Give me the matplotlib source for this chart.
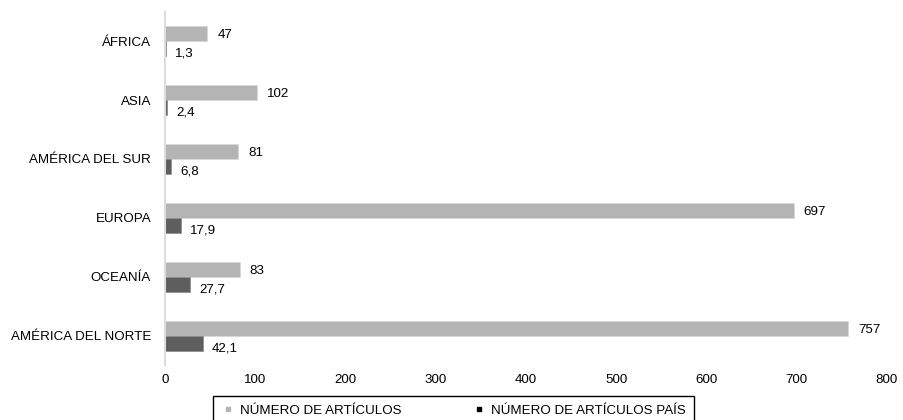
import matplotlib

matplotlib.use("Agg")
import matplotlib.pyplot as plt
from matplotlib.lines import Line2D
import numpy as np

plt.rcParams["font.family"] = ["Liberation Sans", "DejaVu Sans"]

# Data (top to bottom)
regions = ["ÁFRICA", "ASIA", "AMÉRICA DEL SUR", "EUROPA", "OCEANÍA", "AMÉRICA DEL NORTE"]
articulos = [47, 102, 81, 697, 83, 757]
articulos_pais = [1.3, 2.4, 6.8, 17.9, 27.7, 42.1]
xticks = [0, 100, 200, 300, 400, 500, 600, 700, 800]

LIGHT = "#b4b4b4"
DARK = "#5e5e5e"
FS = 9.6

fig = plt.figure(figsize=(9.04, 4.2), dpi=100)
ax = fig.add_axes([0.1825, 0.1298, 0.7985, 0.8428])

y = np.arange(len(regions))
h = 0.25
ax.barh(y - h / 2, articulos, height=h, color=LIGHT, edgecolor="#d8d8d8", lw=0.5)
ax.barh(y + h / 2, articulos_pais, height=h, color=DARK, edgecolor="#8a8a8a", lw=0.5)

for yi, v in zip(y, articulos):
    ax.text(v + 11, yi - h / 2 + 0.02, f"{v}", fontsize=FS, va="center", ha="left")
for yi, v in zip(y, articulos_pais):
    ax.text(v + 10, yi + h / 2 + 0.08, f"{v}".replace(".", ","), fontsize=FS,
            va="center", ha="left")

ax.set_ylim(len(regions) - 0.5, -0.5)
ax.set_xlim(0, 800)
ax.set_yticks(y)
ax.set_yticklabels(regions, fontsize=FS)
ax.set_xticks(xticks)
ax.set_xticklabels([str(t) for t in xticks], fontsize=FS)
ax.tick_params(length=0, pad=10)
ax.tick_params(axis="x", pad=6)
for side in ["top", "right", "bottom"]:
    ax.spines[side].set_visible(False)
ax.spines["left"].set_color("#dddddd")
ax.spines["left"].set_linewidth(1.5)

handles = [
    Line2D([], [], ls="none", marker="s", ms=3, color=LIGHT),
    Line2D([], [], ls="none", marker="s", ms=3, color="black"),
]
fig.legend(handles, ["NÚMERO DE ARTÍCULOS", "NÚMERO DE ARTÍCULOS PAÍS"],
           loc="upper center", bbox_to_anchor=(453.5 / 904, 0.072), ncol=2,
           fontsize=FS, frameon=True, fancybox=False, edgecolor="black",
           framealpha=1, columnspacing=5.3, handletextpad=0.4, borderpad=0.6,
           handlelength=1.0)

fig.savefig("out.png", dpi=100)
